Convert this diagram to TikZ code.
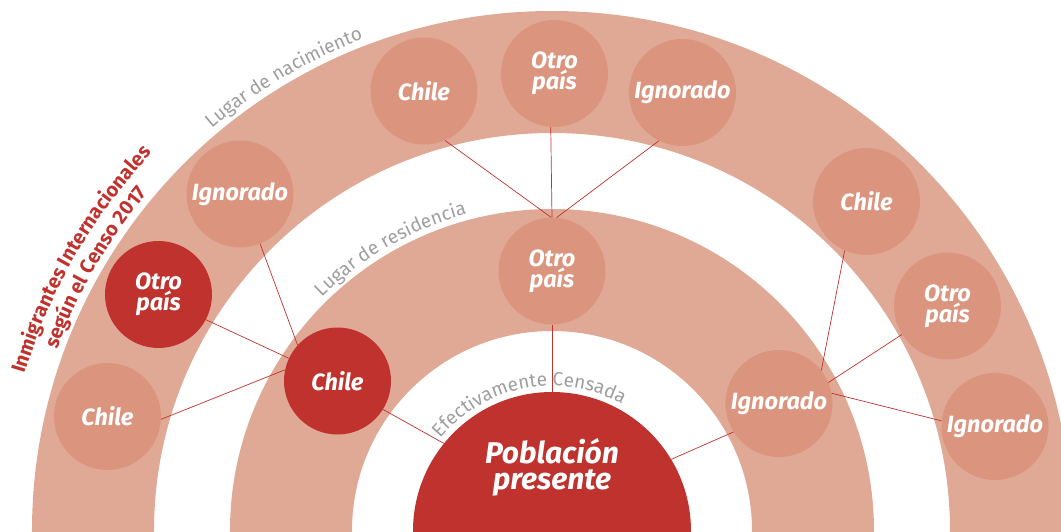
\documentclass[tikz,border=0pt]{standalone}
\usepackage{fontspec}
\setmainfont{Fira Sans}
\usetikzlibrary{decorations.text}
\definecolor{band}{HTML}{E0A996}
\definecolor{dot}{HTML}{DB957E}
\definecolor{ired}{HTML}{C0322D}
\definecolor{lbl}{HTML}{9E9E9E}
\newcommand\lblfont{\fontsize{19}{19}\selectfont\color{lbl}}
\newcommand\ttlfont{\fontsize{20}{20}\selectfont\bfseries\color{ired}}
\tikzset{
  bub/.style={circle, fill=dot, minimum size=107pt, inner sep=0pt, text=white,
    font=\fontsize{23.5}{21}\selectfont\bfseries\itshape, align=center},
  rbub/.style={bub, fill=ired},
  link/.style={draw=ired, line width=0.7pt},
}
\begin{document}
\begin{tikzpicture}[x=1pt,y=1pt]
\useasboundingbox (-552,0) rectangle (509,531);
\clip (-552,0) rectangle (509,531);
% bands
\fill[band, even odd rule] (0,0) circle[radius=520pt] (0,0) circle[radius=398pt];
\fill[band, even odd rule] (0,0) circle[radius=322pt] (0,0) circle[radius=200pt];
% centre
\node[circle, fill=ired, minimum size=278pt, inner sep=0pt] (pop) at (0,0) {};
\node[text=white, align=center, font=\fontsize{30}{26}\selectfont\bfseries\itshape] (poptext) at (0,64) {Población\\presente};
% middle ring
\node[rbub] (mChile) at (-214.5,150) {Chile};
\node[bub] (mOtro) at (0,260) {Otro\\país};
\node[bub] (mIgn) at (227,127.5) {Ignorado};
% outer ring
\node[bub] (oChileL) at (-444.5,114.5) {Chile};
\node[rbub] (oOtroL) at (-393.5,236.5) {Otro\\país};
\node[bub] (oIgnL) at (-312,337) {Ignorado};
\node[bub] (oChileT) at (-128,440) {Chile};
\node[bub] (oOtroT) at (2.5,457.5) {Otro\\país};
\node[bub] (oIgnT) at (130.5,438.5) {Ignorado};
\node[bub] (oChileR) at (314.5,329.5) {Chile};
\node[bub] (oOtroR) at (395.5,225) {Otro\\país};
\node[bub] (oIgnR) at (443,104.5) {Ignorado};
% connectors
\draw[link] (oChileT.-67) -- (mOtro.91);
\draw[link] (oOtroT.-94) -- (mOtro.90);
\draw[link] (oIgnT.-116) -- (mOtro.85);
\draw[link] (oIgnL.-68.6) -- (mChile.138.9);
\draw[link] (oOtroL.-28.6) -- (mChile.155.5);
\draw[link] (oChileL.-3.6) -- (mChile.168);
\draw[link] (mChile.-32.5) -- (pop.141.3);
\draw[link] (mOtro.-90) -- (pop.90);
\draw[link] (mIgn.-148.2) -- (pop.31);
\draw[link] (mIgn.38.6) -- (oChileR.-114.9);
\draw[link] (mIgn.23.7) -- (oOtroR.-148.6);
\draw[link] (mIgn.11.4) -- (oIgnR.174.5);
% arc labels
\path[decoration={text along path, text={|\lblfont|Lugar de nacimiento}, text align=center}, decorate]
  (150.6:527pt) arc[start angle=150.6, end angle=90.6, radius=527pt];
\path[decoration={text along path, text={|\lblfont|Lugar de residencia}, text align=center}, decorate]
  (149.8:328pt) arc[start angle=149.8, end angle=89.8, radius=328pt];
\path[decoration={text along path, text={|\lblfont|Efectivamente Censada}, text align=center}, decorate]
  (160.7:145pt) arc[start angle=160.7, end angle=40.7, radius=145pt];
% title
\path[decoration={text along path, text={|\ttlfont|Inmigrantes Internacionales}, text align=center}, decorate]
  (190:550pt) arc[start angle=190, end angle=110, radius=550pt];
\path[decoration={text along path, text={|\ttlfont|según el Censo 2017}, text align=center}, decorate]
  (190:527pt) arc[start angle=190, end angle=110, radius=527pt];
\end{tikzpicture}
\end{document}
